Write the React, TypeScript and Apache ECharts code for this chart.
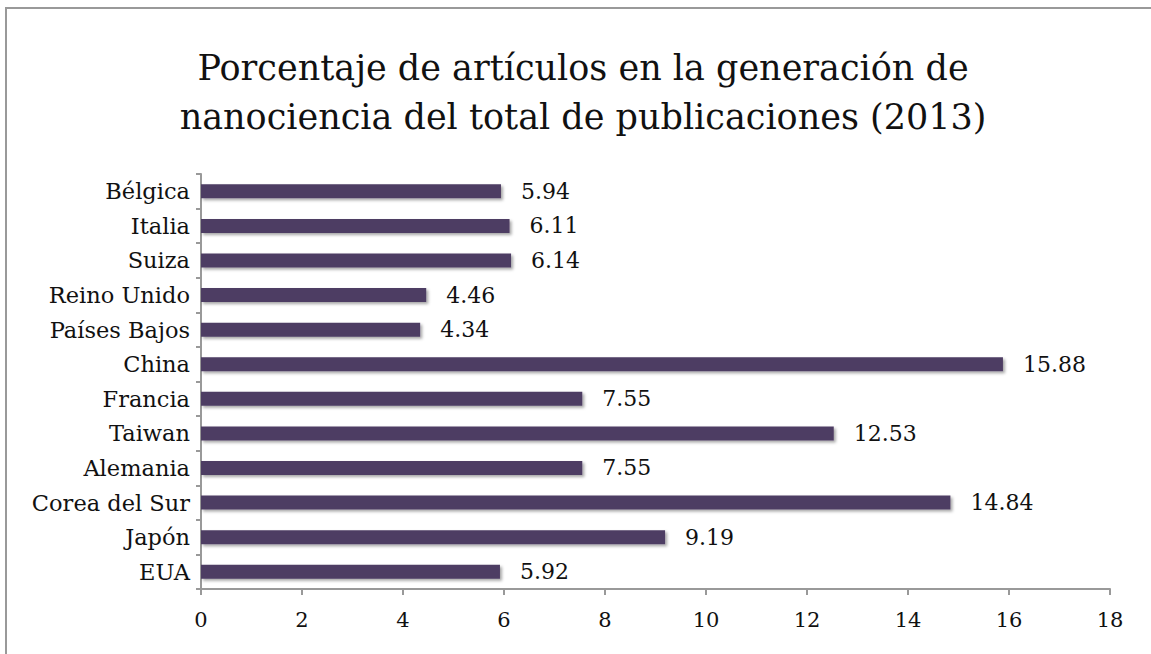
import React, { useEffect, useRef } from "react";
import * as echarts from "echarts";

const titleLines = [
  "Porcentaje de artículos en la generación de",
  "nanociencia del total de publicaciones (2013)",
];
const categories = [
  "EUA",
  "Japón",
  "Corea del Sur",
  "Alemania",
  "Taiwan",
  "Francia",
  "China",
  "Países Bajos",
  "Reino Unido",
  "Suiza",
  "Italia",
  "Bélgica",
];
const values = [5.92, 9.19, 14.84, 7.55, 12.53, 7.55, 15.88, 4.34, 4.46, 6.14, 6.11, 5.94];
const xMin = 0;
const xMax = 18;
const xStep = 2;

const FONT = "'DejaVu Serif', 'Liberation Serif', serif";

export default function App() {
  const ref = useRef<HTMLDivElement>(null);
  useEffect(() => {
    if (!ref.current) return;
    const chart = echarts.init(ref.current, null, { renderer: "svg" });
    chart.setOption({
      animation: false,
      backgroundColor: "#ffffff",
      title: {
        text: titleLines.join("\n"),
        left: 578,
        textAlign: "center",
        top: 38,
        textStyle: {
          fontFamily: FONT,
          fontSize: 35,
          fontWeight: "normal",
          color: "#111111",
          lineHeight: 49,
        },
      },
      graphic: [
        {
          type: "rect",
          shape: { x: 6, y: 8, width: 1300, height: 800 },
          style: { fill: "none", stroke: "#999999", lineWidth: 2 },
          silent: true,
        },
      ],
      grid: { left: 201, right: 41, top: 174, bottom: 65, containLabel: false },
      xAxis: {
        type: "value",
        min: xMin,
        max: xMax,
        interval: xStep,
        axisLine: { show: true, lineStyle: { color: "#999999", width: 2 } },
        axisTick: { show: true, length: 6, lineStyle: { color: "#999999", width: 2 } },
        splitLine: { show: false },
        axisLabel: {
          margin: 20,
          fontFamily: FONT,
          fontSize: 21,
          color: "#111111",
        },
      },
      yAxis: {
        type: "category",
        data: categories,
        axisLine: { show: true, lineStyle: { color: "#999999", width: 2 } },
        axisTick: { show: true, length: 5, lineStyle: { color: "#999999", width: 2 } },
        axisLabel: {
          margin: 11,
          fontFamily: FONT,
          fontSize: 22.5,
          color: "#111111",
        },
      },
      series: [
        {
          type: "bar",
          data: values,
          barWidth: 14,
          itemStyle: {
            color: "#4e3d63",
            shadowColor: "rgba(0,0,0,0.35)",
            shadowBlur: 3,
            shadowOffsetX: 2,
            shadowOffsetY: 2,
          },
          label: {
            show: true,
            position: "right",
            distance: 20,
            fontFamily: FONT,
            fontSize: 22,
            color: "#111111",
            formatter: (p: any) => p.value.toFixed(2),
          },
        },
      ],
    });
    return () => chart.dispose();
  }, []);
  return (
    <div
      ref={ref}
      style={{ position: "fixed", left: 0, top: 0, width: 1151, height: 654 }}
    />
  );
}
